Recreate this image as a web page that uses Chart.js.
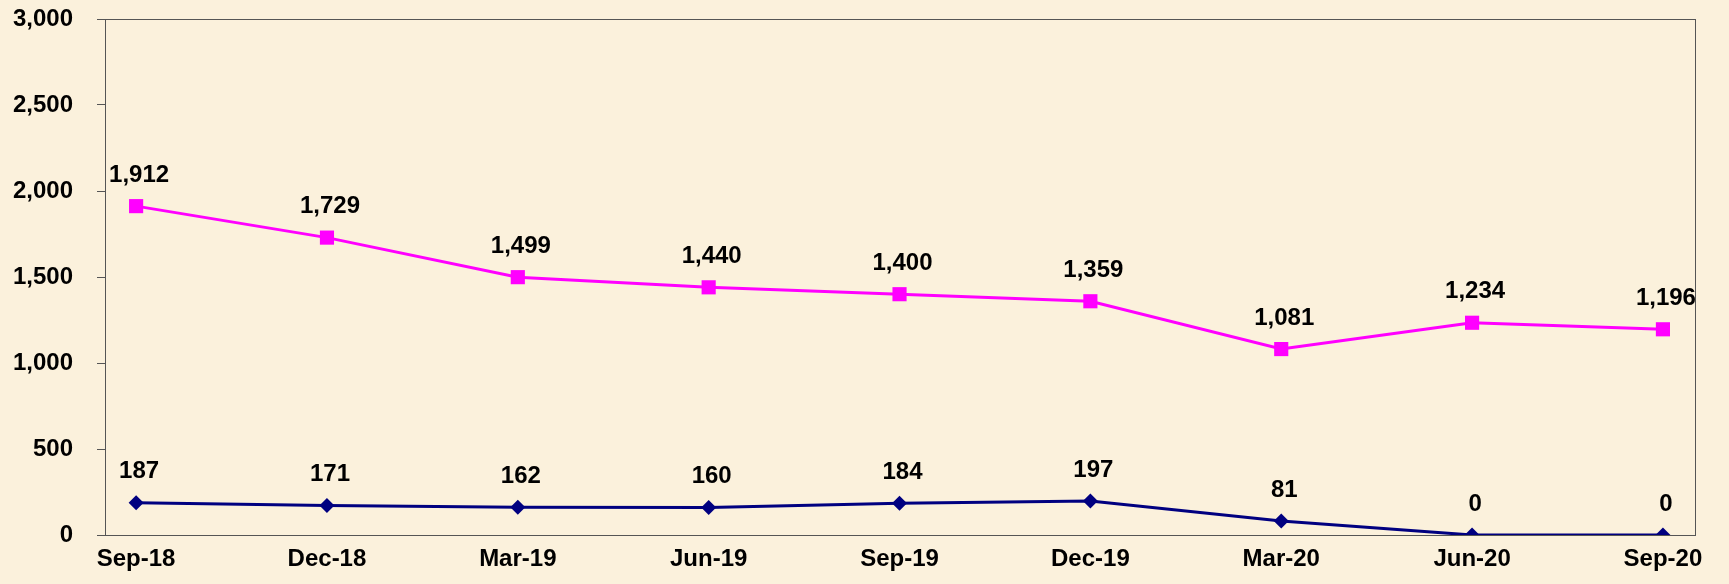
<!DOCTYPE html>
<html>
<head>
<meta charset="utf-8">
<script src="https://cdn.jsdelivr.net/npm/chart.js@4"></script>
<style>
  html, body { margin: 0; padding: 0; background: #fbf1dc; }
  #wrap { width: 1729px; height: 584px; position: relative; }
</style>
</head>
<body>
<div id="wrap"><canvas id="chart"></canvas></div>
<script>
const categories = ['Sep-18', 'Dec-18', 'Mar-19', 'Jun-19', 'Sep-19', 'Dec-19', 'Mar-20', 'Jun-20', 'Sep-20'];
const pinkSeries = [1912, 1729, 1499, 1440, 1400, 1359, 1081, 1234, 1196];
const navySeries = [187, 171, 162, 160, 184, 197, 81, 0, 0];
const yTicks     = [0, 500, 1000, 1500, 2000, 2500, 3000];

const FONT = 'bold 24px "Liberation Sans", Arial, sans-serif';

const toPoints = (arr) => arr.map((v, i) => ({ x: i, y: v }));

// frame around the plot area (top + right sides too)
const framePlugin = {
  id: 'frame',
  afterDraw(chart) {
    const { ctx, chartArea: a } = chart;
    ctx.save();
    ctx.strokeStyle = '#555';
    ctx.lineWidth = 1;
    ctx.strokeRect(Math.round(a.left) + 0.5, Math.round(a.top) + 0.5,
                   Math.round(a.right - a.left), Math.round(a.bottom - a.top));
    ctx.restore();
  },
};

// value labels above every point
const labelPlugin = {
  id: 'valueLabels',
  afterDatasetsDraw(chart) {
    const ctx = chart.ctx;
    ctx.save();
    ctx.font = FONT;
    ctx.fillStyle = '#000';
    ctx.textAlign = 'center';
    ctx.textBaseline = 'middle';
    chart.data.datasets.forEach((ds, di) => {
      chart.getDatasetMeta(di).data.forEach((pt, i) => {
        ctx.fillText(ds.data[i].y.toLocaleString('en-US'), pt.x + 3, pt.y - 31);
      });
    });
    ctx.restore();
  },
};

new Chart(document.getElementById('chart'), {
  type: 'line',
  data: {
    datasets: [
      {
        label: 'Series 1',
        data: toPoints(pinkSeries),
        borderColor: '#ff00ff',
        backgroundColor: '#ff00ff',
        borderWidth: 3,
        pointStyle: 'rect',
        pointRadius: 10,
        pointBorderWidth: 0,
        tension: 0,
      },
      {
        label: 'Series 2',
        data: toPoints(navySeries),
        borderColor: '#000080',
        backgroundColor: '#000080',
        borderWidth: 3,
        pointStyle: 'rectRot',
        pointRadius: 7.5,
        pointBorderWidth: 0,
        tension: 0,
      },
    ],
  },
  options: {
    animation: false,
    responsive: true,
    maintainAspectRatio: false,
    layout: { padding: { top: 19, right: 34, left: 0, bottom: 0 } },
    plugins: {
      legend: { display: false },
      tooltip: { enabled: false },
    },
    scales: {
      x: {
        type: 'linear',
        min: -0.163,
        max: 8.168,
        afterBuildTicks: (s) => { s.ticks = categories.map((c, i) => ({ value: i })); },
        afterFit: (s) => { s.height = 49; s.paddingLeft = 0; s.paddingRight = 0; },
        grid: { display: false, drawTicks: false },
        border: { display: true, color: '#555' },
        ticks: {
          color: '#000',
          font: { family: '"Liberation Sans", Arial, sans-serif', size: 24, weight: 'bold' },
          padding: 10,
          maxRotation: 0,
          autoSkip: false,
          callback: (v) => categories[v],
        },
      },
      y: {
        min: 0,
        max: 3000,
        afterBuildTicks: (s) => { s.ticks = yTicks.map((v) => ({ value: v })); },
        afterFit: (s) => { s.width = 105; s.paddingTop = 0; s.paddingBottom = 0; },
        grid: { drawOnChartArea: false, drawTicks: true, tickLength: 8, color: '#555' },
        border: { display: true, color: '#222' },
        ticks: {
          color: '#000',
          padding: 24,
          font: { family: '"Liberation Sans", Arial, sans-serif', size: 24, weight: 'bold' },
          callback: (v) => v.toLocaleString('en-US'),
        },
      },
    },
  },
  plugins: [framePlugin, labelPlugin],
});
</script>
</body>
</html>
